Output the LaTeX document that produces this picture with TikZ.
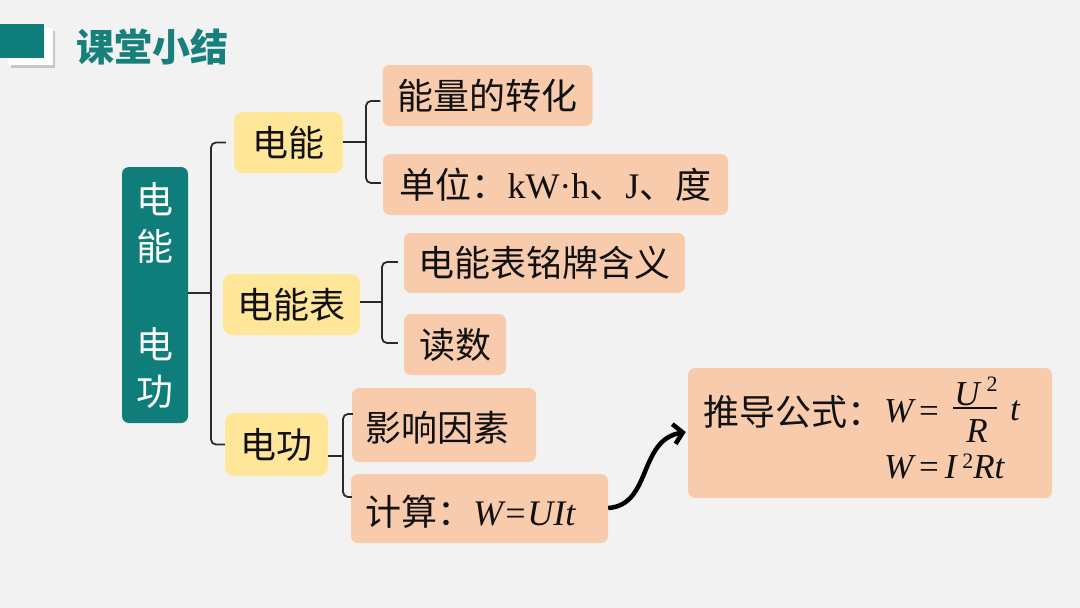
\documentclass[tikz,border=0pt]{standalone}
\usepackage{fontspec}
\setmainfont{Liberation Serif}
\newfontfamily\cjk{Noto Sans CJK SC}
\usetikzlibrary{arrows.meta}
\definecolor{bgc}{HTML}{F2F2F2}
\definecolor{tealc}{HTML}{0F7D7A}
\definecolor{titlec}{HTML}{17807B}
\definecolor{yelc}{HTML}{FFE699}
\definecolor{peachc}{HTML}{F8CBAD}
\definecolor{linec}{HTML}{2A2A2A}
\definecolor{txtc}{HTML}{111111}
\tikzset{
  ybox/.style={fill=yelc, rounded corners=9pt, inner sep=0pt, text=txtc, font=\cjk\fontsize{36}{40}\selectfont},
  pbox/.style={fill=peachc, rounded corners=7pt, inner sep=0pt, text=txtc, font=\cjk\fontsize{36}{40}\selectfont},
  ptext/.style={inner sep=0pt, text=txtc, anchor=west, font=\cjk\fontsize{36}{40}\selectfont},
  mtext/.style={inner sep=0pt, text=txtc, font=\fontsize{35}{38}\selectfont},
  brace/.style={draw=linec, line width=1.8pt, rounded corners=5pt},
}
\begin{document}
\begin{tikzpicture}[x=1pt,y=-1pt]
\useasboundingbox (0,0) rectangle (1080,608);
\fill[bgc] (0,0) rectangle (1080,608);
% title decoration
\fill[black!22] (11,31) rectangle (55,68);
\fill[white] (8,28) rectangle (53,65);
\fill[tealc] (0,24) rectangle (44,58);
\node[inner sep=0pt, anchor=west, text=titlec, font=\cjk\bfseries\fontsize{38}{40}\selectfont] (title) at (76,47) {课堂小结};
% root
\node[fill=tealc, rounded corners=7pt, minimum width=66pt, minimum height=256pt, inner sep=0pt, text=white, align=center, font=\cjk\fontsize{37}{47}\selectfont] (root) at (155,295) {电\\能\\[51pt]电\\功};
% level 1
\node[ybox, minimum width=109pt, minimum height=61pt] (dn) at (288.5,142.5) {电能};
\node[ybox, minimum width=137pt, minimum height=61pt] (dnb) at (291.5,304.5) {电能表};
\node[ybox, minimum width=103pt, minimum height=63pt] (dg) at (276.5,444.5) {电功};
% level 2
\node[pbox, minimum width=210pt, minimum height=61pt] (nl) at (487.5,95.5) {能量的转化};
\node[pbox, minimum width=345pt, minimum height=61pt] (dw) at (555.5,184.5) {单位：\rmfamily kW·h\cjk 、\rmfamily J\cjk 、度};
\node[pbox, minimum width=281pt, minimum height=60pt] (mp) at (544.5,263) {电能表铭牌含义};
\node[pbox, minimum width=102pt, minimum height=61pt] (ds) at (455,344.5) {读数};
\node[pbox, minimum width=184pt, minimum height=74pt] (yx) at (444,425) {};
\node[ptext] (yxt) at (365,428) {影响因素};
\node[pbox, minimum width=257pt, minimum height=69pt] (js) at (479.5,508.5) {};
\node[ptext] (jst) at (365,512) {计算：\rmfamily\itshape W=UIt};
% formula box
\node[pbox, minimum width=364pt, minimum height=130pt] (fb) at (870,433) {};
\node[ptext] (td) at (703,412) {推导公式：};
\node[mtext, anchor=west] (w1) at (884,411) {\itshape W\upshape\,=};
\node[mtext] (u) at (967,394) {\itshape U};
\node[inner sep=0pt, text=txtc, font=\fontsize{22}{24}\selectfont] (u2) at (992,384) {2};
\node[mtext] (r) at (977,431.5) {\itshape R};
\node[mtext] (t1) at (1015,411) {\itshape t};
\draw[txtc, line width=1.3pt] (953,408) -- (997,408);
\node[mtext, anchor=west] (w2) at (884,466) {\itshape W\upshape\,=\,\itshape I\,\upshape\raisebox{10pt}{\fontsize{22}{24}\selectfont 2}\itshape Rt};
% braces
\coordinate (b0) at (211,293);
\draw[brace] (root.east |- b0) -- (b0);
\draw[brace] ([xshift=-8pt]dn.west) -| (b0) |- (dg.west);
\coordinate (b1) at (366,142);
\draw[brace] (dn.east |- b1) -- (b1);
\draw[brace] ([xshift=-2pt]nl.west |- 0,101) -| (b1) |- ([xshift=-2pt]dw.west |- 0,183);
\coordinate (b2) at (382,302);
\draw[brace] (dnb.east |- b2) -- (b2);
\draw[brace] ([xshift=-6pt]mp.west |- 0,262) -| (b2) |- ([xshift=-6pt]ds.west |- 0,343);
\coordinate (b3) at (343,456);
\draw[brace] (dg.east |- b3) -- (b3);
\draw[brace] ([xshift=1pt]yx.west |- 0,414) -| (b3) |- ([xshift=1pt]js.west |- 0,497);
% arrow
\draw[line width=4.5pt, -{Straight Barb[length=9pt,width=20pt]}] (js.east |- 0,508) .. controls (652,505) and (638,440) .. ([xshift=-2pt]fb.west |- 0,432);
\end{tikzpicture}
\end{document}
